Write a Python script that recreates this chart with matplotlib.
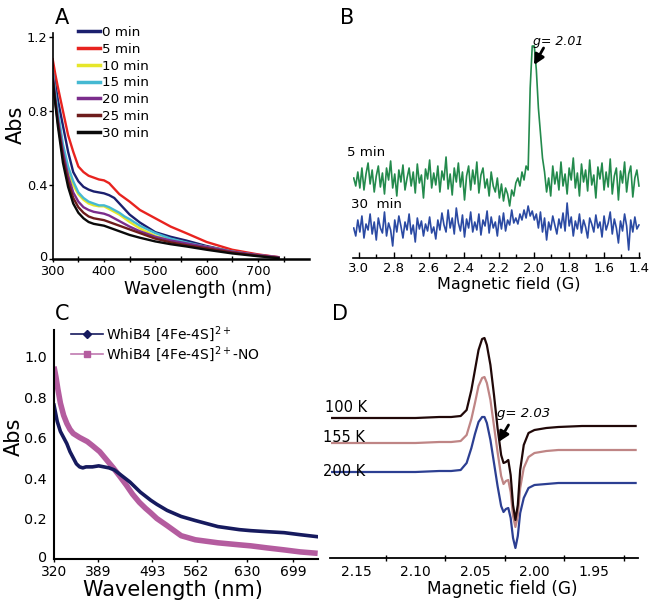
import numpy as np
import matplotlib
matplotlib.use("Agg")
import matplotlib.pyplot as plt
from matplotlib.lines import Line2D
from matplotlib.transforms import ScaledTranslation

plt.rcParams['font.family'] = ['DejaVu Sans']

# ---------------- Panel A data ----------------
wl_a = [300, 305, 310, 320, 330, 340, 350, 360, 370, 380, 390, 400, 410, 420, 430,
        440, 450, 470, 500, 530, 560, 600, 650, 700, 740]
a_labels = ['0 min', '5 min', '10 min', '15 min', '20 min', '25 min', '30 min']
a_0 = [1.05, 0.95, 0.86, 0.72, 0.58, 0.47, 0.42, 0.39, 0.375, 0.365, 0.36, 0.355, 0.345, 0.33, 0.30,
       0.27, 0.24, 0.197, 0.145, 0.12, 0.10, 0.07, 0.04, 0.02, 0.008]
a_5 = [1.08, 1.00, 0.93, 0.80, 0.67, 0.58, 0.50, 0.47, 0.45, 0.44, 0.43, 0.425, 0.41, 0.38, 0.35,
       0.33, 0.31, 0.265, 0.22, 0.175, 0.14, 0.092, 0.05, 0.025, 0.01]
a_10 = [1.00, 0.88, 0.78, 0.60, 0.48, 0.40, 0.35, 0.32, 0.30, 0.29, 0.285, 0.285, 0.27, 0.255, 0.24,
        0.22, 0.20, 0.165, 0.125, 0.10, 0.085, 0.065, 0.04, 0.02, 0.008]
a_15 = [1.02, 0.90, 0.80, 0.62, 0.50, 0.42, 0.36, 0.33, 0.31, 0.30, 0.29, 0.29, 0.28, 0.265, 0.25,
        0.23, 0.215, 0.18, 0.14, 0.11, 0.09, 0.065, 0.04, 0.02, 0.008]
a_20 = [1.00, 0.87, 0.76, 0.58, 0.45, 0.36, 0.31, 0.28, 0.265, 0.255, 0.25, 0.245, 0.235, 0.22, 0.205,
        0.19, 0.175, 0.15, 0.12, 0.10, 0.085, 0.065, 0.04, 0.022, 0.01]
a_25 = [0.98, 0.85, 0.74, 0.55, 0.42, 0.33, 0.28, 0.25, 0.23, 0.22, 0.215, 0.21, 0.20, 0.19, 0.18,
        0.17, 0.16, 0.14, 0.11, 0.09, 0.075, 0.058, 0.035, 0.018, 0.006]
a_30 = [0.97, 0.84, 0.72, 0.52, 0.39, 0.30, 0.25, 0.22, 0.20, 0.19, 0.185, 0.18, 0.17, 0.16, 0.15,
        0.14, 0.13, 0.115, 0.095, 0.08, 0.068, 0.05, 0.03, 0.015, 0.005]
a_series = [a_0, a_5, a_10, a_15, a_20, a_25, a_30]
a_colors = ['#1b1f6e', '#e8231f', '#e6e62a', '#45b9d2', '#7b2d8c', '#6e1c1c', '#0a0a0a']
a_xticks = [300, 400, 500, 600, 700]
a_yticks = [0, 0.4, 0.8, 1.2]
a_yticklabels = ['0', '0.4', '0.8', '1.2']

# ---------------- Panel B data ----------------
b_field_start, b_field_end = 3.03, 1.40
b_green = [80, 72, 86, 70, 90, 68, 84, 95, 74, 88, 66, 82, 92, 71, 85, 64, 90, 78, 97, 70,
           84, 62, 88, 76, 93, 68, 80, 90, 72, 86, 65, 94, 75, 83, 60, 89, 79, 98, 70, 85,
           73, 92, 66, 87, 78, 101, 69, 84, 63, 90, 76, 95, 71, 86, 58, 82, 92, 68, 88, 74,
           96, 65, 83, 90, 70, 79, 62, 86, 72, 66, 80, 60, 74, 57, 70, 64, 52, 68, 62, 75,
           80, 72, 86, 78, 92,
           88, 170, 212, 212, 188, 150, 125, 100, 86, 66,
           80, 62, 92, 74, 86, 68, 96, 72, 84, 64, 90, 78, 100, 70, 85, 62, 94, 76, 88, 67,
           98, 73, 83, 60, 91, 79, 95, 68, 86, 71, 99, 64, 82, 90, 58, 87, 75, 96, 66, 84,
           92, 61, 80, 88, 72]
b_blue = [30, 22, 38, 26, 42, 20, 34, 28, 44, 24, 36, 18, 40, 30, 25, 46, 22, 35, 28, 12,
          38, 26, 42, 32, 20, 36, 28, 44, 24, 33, 16, 40, 29, 37, 22, 34, 27, 41, 25, 31,
          19, 38, 28, 45, 33, 26, 48, 30, 40, 24, 50, 35, 27, 43, 21, 39, 30, 46, 26, 36,
          28, 44, 23, 38, 32, 47, 25, 41, 30, 36, 22, 42, 29, 45, 27, 38, 33, 48, 35, 40,
          34, 44, 38, 48, 40, 52, 42, 47, 38, 44, 30, 46, 26, 40, 18, 36, 28, 42, 33, 24,
          39, 30, 45, 27, 55, 32, 41, 22, 37, 29, 44, 25, 38, 31, 20, 40, 34, 26, 43, 30,
          36, 21, 42, 28, 35, 46, 24, 39, 30, 15, 37, 27, 44, 32, 8, 38, 26, 41, 29, 33]
b_field = np.linspace(b_field_start, b_field_end, len(b_green))
b_xticks = [3.0, 2.8, 2.6, 2.4, 2.2, 2.0, 1.8, 1.6, 1.4]

# ---------------- Panel C data ----------------
c_wl_navy = [320, 325, 330, 335, 340, 345, 350, 355, 360, 365, 370, 380, 390, 400, 410, 420, 430,
             440, 450, 460, 470, 480, 490, 500, 516, 538, 560, 591, 620, 636, 660, 686, 710, 736]
c_navy = [0.76, 0.68, 0.63, 0.60, 0.57, 0.53, 0.50, 0.47, 0.455, 0.45, 0.455, 0.455, 0.46, 0.455,
          0.45, 0.44, 0.42, 0.40, 0.38, 0.355, 0.33, 0.31, 0.29, 0.27, 0.24, 0.21, 0.19, 0.16,
          0.145, 0.14, 0.135, 0.13, 0.12, 0.11]
c_wl_pink = [320, 323, 326, 330, 335, 340, 345, 350, 360, 372, 380, 392, 405, 418, 430, 443, 455,
             468, 480, 489, 500, 516, 538, 560, 591, 620, 636, 660, 686, 710, 736]
c_pink = [0.95, 0.90, 0.84, 0.77, 0.71, 0.67, 0.64, 0.62, 0.60, 0.58, 0.56, 0.53, 0.49, 0.45, 0.41,
          0.365, 0.32, 0.28, 0.25, 0.23, 0.20, 0.165, 0.115, 0.095, 0.08, 0.07, 0.065, 0.055,
          0.045, 0.035, 0.028]
c_labels = ['WhiB4 [4Fe-4S]$^{2+}$', 'WhiB4 [4Fe-4S]$^{2+}$-NO']
c_xticks = [320, 389, 493, 562, 630, 699]
c_yticks = [0, 0.2, 0.4, 0.6, 0.8, 1.0]
c_yticklabels = ['0', '0.2', '0.4', '0.6', '0.8', '1.0']

# ---------------- Panel D data ----------------
d_field = [2.170, 2.150, 2.120, 2.100, 2.080, 2.070, 2.062, 2.057, 2.053, 2.050, 2.047, 2.044,
           2.042, 2.040, 2.037, 2.034, 2.031, 2.028, 2.026, 2.024, 2.022, 2.020, 2.018, 2.016,
           2.014, 2.012, 2.009, 2.005, 2.000, 1.990, 1.980, 1.960, 1.940, 1.915]
d_100 = [140, 140, 140, 140, 141, 141, 142, 148, 168, 188, 208, 219, 220, 213, 193, 163, 130,
         103, 95, 96, 98, 83, 53, 38, 53, 88, 113, 125, 128, 130, 131, 132, 132, 132]
d_155 = [115, 115, 115, 115, 116, 116, 117, 123, 139, 155, 172, 180, 181, 175, 158, 132, 106,
         82, 74, 77, 78, 66, 42, 31, 42, 70, 90, 101, 105, 107, 108, 108, 108, 108]
d_200 = [86, 86, 86, 86, 87, 87, 88, 95, 110, 124, 136, 141, 141, 135, 118, 95, 72, 52, 46, 49,
         50, 40, 20, 10, 22, 45, 60, 70, 73, 74, 75, 75, 75, 75]
d_labels = ['100 K', '155 K', '200 K']
d_xticks = [2.15, 2.10, 2.05, 2.00, 1.95]

W, H = 650, 605
fig = plt.figure(figsize=(W / 100, H / 100), dpi=100)


def rect(x0, ytop, x1, ybot):
    return [x0 / W, 1 - ybot / H, (x1 - x0) / W, (ybot - ytop) / H]


def ftext(x, y, s, **kw):
    fig.text(x / W, 1 - y / H, s, **kw)


def lift_first_ylabel(ax, px):
    lbl = ax.get_yticklabels()[0]
    lbl.set_transform(lbl.get_transform() + ScaledTranslation(0, px / 100, fig.dpi_scale_trans))


# ---------------- Panel A ----------------
axA = fig.add_axes(rect(52.7, 33.3, 309.2, 259))
for s, c, lab in zip(a_series, a_colors, a_labels):
    axA.plot(wl_a, s, color=c, lw=1.7, label=lab)
axA.set_xlim(300, 800)
axA.set_ylim(0, 1.22)
axA.spines['top'].set_visible(False)
axA.spines['right'].set_visible(False)
axA.spines['bottom'].set_linewidth(1.8)
axA.spines['left'].set_linewidth(1.2)
axA.set_xticks(a_xticks)
axA.set_xticks([350, 450, 550, 650, 750], minor=True)
axA.set_yticks(a_yticks)
axA.set_yticklabels(a_yticklabels)
axA.tick_params(axis='x', which='major', length=2, width=1, pad=2.5, labelsize=9.3)
axA.tick_params(axis='x', which='minor', direction='inout', length=5, width=1)
axA.tick_params(axis='y', which='major', length=3, width=1, pad=1, labelsize=9.3)
lift_first_ylabel(axA, 3)
leg = axA.legend(loc='upper left', bbox_to_anchor=(78 / W, 1 - 26 / H), bbox_transform=fig.transFigure,
                 frameon=False, fontsize=9.7, handlelength=1.65, handletextpad=0.15,
                 labelspacing=0.28, borderpad=0, borderaxespad=0)
for ln in leg.get_lines():
    ln.set_linewidth(2.5)
ftext(55, 18, 'A', fontsize=15, va='center', ha='left')
ftext(16, 125, 'Abs', fontsize=15, va='center', ha='center', rotation=90)
ftext(198, 289, 'Wavelength (nm)', fontsize=12.3, va='center', ha='center')

# ---------------- Panel B ----------------
axB = fig.add_axes(rect(353, 35, 640, 258))
axB.plot(b_field, b_green, color='#238a4c', lw=1.2)
axB.plot(b_field, b_blue, color='#2b4aa3', lw=1.2)
axB.set_xlim(3.034, 1.394)
axB.set_ylim(0, 223)
for sp in ['top', 'right', 'left']:
    axB.spines[sp].set_visible(False)
axB.spines['bottom'].set_linewidth(1.2)
axB.set_yticks([])
axB.set_xticks(b_xticks)
axB.set_xticklabels(['%.1f' % v for v in b_xticks])
axB.set_xticks([2.9, 2.7, 2.5, 2.3, 2.1, 1.9, 1.7, 1.5], minor=True)
axB.tick_params(axis='x', which='major', direction='in', length=4, width=1, pad=3, labelsize=9.5)
axB.tick_params(axis='x', which='minor', direction='in', length=3, width=1)
axB.annotate('', xy=(2.0, 193), xytext=(1.945, 210),
             arrowprops=dict(arrowstyle='-|>', mutation_scale=15, lw=2, color='black',
                             shrinkA=0, shrinkB=0))
ftext(340, 18, 'B', fontsize=15, va='center', ha='left')
ftext(533, 41, 'g= 2.01', fontsize=9, va='center', ha='left', style='italic')
ftext(347, 153, '5 min', fontsize=9.6, va='center', ha='left')
ftext(351, 204, '30  min', fontsize=9.6, va='center', ha='left')
ftext(509, 284, 'Magnetic field (G)', fontsize=11.5, va='center', ha='center')

# ---------------- Panel C ----------------
knots_w = [300, 320, 389, 493, 562, 630, 699, 760]
knots_p = [-12.8, 0, 44, 98, 142, 192, 238, 278.7]


def c_fwd(w):
    return np.interp(w, knots_w, knots_p)


def c_inv(p):
    return np.interp(p, knots_p, knots_w)


axC = fig.add_axes(rect(54, 330, 318, 559))
axC.set_xscale('function', functions=(c_fwd, c_inv))
axC.plot(c_wl_pink, c_pink, color='#b45c9f', lw=4.0, solid_capstyle='butt')
axC.plot(c_wl_navy, c_navy, color='#161a5e', lw=2.6)
axC.set_xlim(320, 736.5)
axC.set_ylim(0, 1.131)
axC.spines['top'].set_visible(False)
axC.spines['right'].set_visible(False)
axC.spines['bottom'].set_linewidth(1.5)
axC.spines['left'].set_linewidth(1.5)
axC.set_xticks(c_xticks)
axC.set_xticklabels([str(v) for v in c_xticks])
axC.xaxis.set_minor_locator(matplotlib.ticker.NullLocator())
axC.set_yticks(c_yticks)
axC.set_yticklabels(c_yticklabels)
axC.tick_params(axis='x', which='major', length=2, width=1, pad=2.5, labelsize=10)
axC.tick_params(axis='y', which='major', length=0, pad=5, labelsize=10.3)
lift_first_ylabel(axC, 3)
handles = [Line2D([0], [0], color='#161a5e', lw=1.2, marker='D', markersize=4),
           Line2D([0], [0], color='#c07ab0', lw=1.2, marker='s', markersize=5, markerfacecolor='#b45c9f',
                  markeredgecolor='#b45c9f')]
axC.legend(handles, c_labels, loc='upper left', bbox_to_anchor=(71 / W, 1 - 324 / H),
           bbox_transform=fig.transFigure, frameon=False, fontsize=10, handlelength=2.3,
           handletextpad=0.2, labelspacing=0.02, borderpad=0, borderaxespad=0)
ftext(55, 314, 'C', fontsize=15, va='center', ha='left')
ftext(14, 437, 'Abs', fontsize=15, va='center', ha='center', rotation=90)
ftext(173, 590, 'Wavelength (nm)', fontsize=15, va='center', ha='center')

# ---------------- Panel D ----------------
axD = fig.add_axes(rect(330, 315, 638, 558))
axD.plot(d_field, d_200, color='#2c3f92', lw=1.6)
axD.plot(d_field, d_155, color='#bf8585', lw=1.6)
axD.plot(d_field, d_100, color='#200808', lw=1.6)
axD.set_xlim(2.1718, 1.913)
axD.set_ylim(0, 243)
for sp in ['top', 'right', 'left']:
    axD.spines[sp].set_visible(False)
axD.spines['bottom'].set_linewidth(1.3)
axD.set_yticks([])
axD.set_xticks(d_xticks)
axD.set_xticklabels(['%.2f' % v for v in d_xticks])
axD.set_xticks([2.125, 2.075, 2.025, 1.975, 1.925], minor=True)
axD.tick_params(axis='x', which='major', length=0, pad=5, labelsize=10)
axD.tick_params(axis='x', which='minor', direction='inout', length=5, width=1)
axD.annotate('', xy=(2.0302, 116), xytext=(2.0218, 133),
             arrowprops=dict(arrowstyle='-|>', mutation_scale=15, lw=2, color='black',
                             shrinkA=0, shrinkB=0))
ftext(332, 314, 'D', fontsize=15, va='center', ha='left')
ftext(497, 413, 'g= 2.03', fontsize=9.5, va='center', ha='left', style='italic')
ftext(325, 408, d_labels[0], fontsize=10.5, va='center', ha='left')
ftext(323, 438, d_labels[1], fontsize=10.5, va='center', ha='left')
ftext(323, 472, d_labels[2], fontsize=10.5, va='center', ha='left')
ftext(502, 589, 'Magnetic field (G)', fontsize=12.2, va='center', ha='center')

fig.savefig('out.png', dpi=100)
